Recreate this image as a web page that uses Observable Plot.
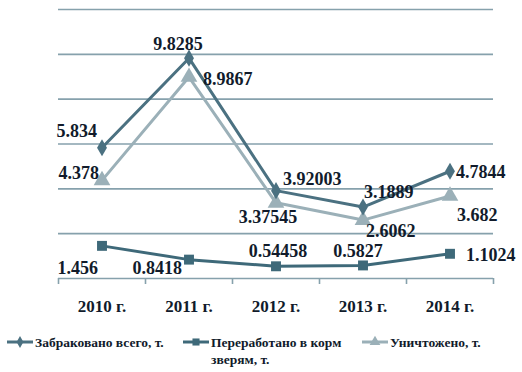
<!DOCTYPE html>
<html>
<head>
<meta charset="utf-8">
<script src="https://cdn.jsdelivr.net/npm/d3@7"></script>
<script src="https://cdn.jsdelivr.net/npm/@observablehq/plot@0.6"></script>
<style>
  html, body { margin: 0; padding: 0; background: #fff; }
  #chart { width: 522px; }
  .legend { position: relative; height: 46px; font-family: "Liberation Serif", "Times New Roman", serif; font-weight: bold; font-size: 13.5px; color: #111b2b; line-height: 17px; }
  .item { position: absolute; top: 8px; display: flex; align-items: flex-start; }
  .item svg { flex: none; margin-top: 1px; }
</style>
</head>
<body>
<div id="chart"></div>
<script>
const years = ["2010 г.", "2011 г.", "2012 г.", "2013 г.", "2014 г."];
const rejected = [5.834, 9.8285, 3.92003, 3.1889, 4.7844];
const feed = [1.456, 0.8418, 0.54458, 0.5827, 1.1024];
const destroyed = [4.378, 8.9867, 3.37545, 2.6062, 3.682];
const seriesNames = ["Забраковано всего, т.", "Переработано в корм зверям, т.", "Уничтожено, т."];
const yTicks = [0, 2, 4, 6, 8, 10, 12];

const colors = ["#4b7181", "#3e6979", "#9bb0b8"];
const symbols = ["diamond", "square", "triangle"];
const radii = [5.2, 5.6, 6.2];
const textColor = "#111b2b";
const gridColor = "#86a1ac";

// label placement per series per year: [anchor, dx, dy]
const labelPos = [
  [["end", -5, -16], ["middle", -11, -14], ["start", 7, -11], ["start", 1, -15], ["start", 6, 1]],
  [["end", -4, 22], ["end", -7, 9], ["middle", 2, -15], ["middle", -5, -14], ["start", 16, 1]],
  [["end", -3, -7], ["start", 14, 2], ["middle", -8, 14], ["start", 3, 11], ["start", 7, 19]]
];

const allSeries = [rejected, feed, destroyed];
const rows = allSeries.map((vals, s) => vals.map((v, i) => ({s, i, x: i + 0.5, year: years[i], value: v})));

const marks = [
  Plot.ruleY(yTicks, {stroke: gridColor, strokeWidth: 1.6}),
  Plot.axisX({ticks: d3.range(years.length + 1), tickSize: 6, tickFormat: () => "", label: null, stroke: gridColor, strokeWidth: 1.6}),
  Plot.axisX({ticks: years.map((d, i) => i + 0.5), tickSize: 0, tickPadding: 21, label: null, tickFormat: v => years[Math.floor(v)],
    fontSize: 17, fontWeight: "bold", fill: textColor})
];

// draw light series first, then others
[2, 0, 1].forEach(s => {
  marks.push(Plot.line(rows[s], {x: "x", y: "value", stroke: colors[s], strokeWidth: 3}));
  marks.push(Plot.dot(rows[s], {x: "x", y: "value", symbol: () => symbols[s], r: radii[s], fill: colors[s], stroke: "none"}));
});

rows.forEach((r, s) => r.forEach((d, i) => {
  const [anchor, dx, dy] = labelPos[s][i];
  marks.push(Plot.text([d], {x: "x", y: "value", text: d => String(d.value), textAnchor: anchor, dx, dy,
    fontSize: 18, fontWeight: "bold", fill: textColor}));
}));

const chart = Plot.plot({
  width: 522,
  height: 326,
  marginLeft: 58,
  marginRight: 29,
  marginTop: 9,
  marginBottom: 48,
  style: {background: "#fff", fontFamily: "'Liberation Serif', 'Times New Roman', serif", overflow: "visible"},
  x: {type: "linear", domain: [0, years.length], axis: null, label: null},
  y: {domain: [0, 12], axis: null, label: null},
  marks
});
document.getElementById("chart").appendChild(chart);

// legend
const legend = document.createElement("div");
legend.className = "legend";
const lefts = [7, 183, 362];
const textWidths = [150, 145, 140];
seriesNames.forEach((name, s) => {
  const item = document.createElement("div");
  item.className = "item";
  item.style.left = lefts[s] + "px";
  const sw = d3.create("svg").attr("width", 27).attr("height", 14);
  sw.append("line").attr("x1", 0).attr("x2", 26).attr("y1", 7).attr("y2", 7).attr("stroke", colors[s]).attr("stroke-width", 3);
  const symType = [d3.symbolDiamond, d3.symbolSquare, d3.symbolTriangle][s];
  sw.append("path").attr("d", d3.symbol(symType, [40, 50, 50][s])()).attr("transform", "translate(13,7)").attr("fill", colors[s]);
  item.appendChild(sw.node());
  const t = document.createElement("span");
  t.textContent = name;
  t.style.width = textWidths[s] + "px";
  t.style.paddingLeft = "1px";
  item.appendChild(t);
  legend.appendChild(item);
});
document.getElementById("chart").appendChild(legend);
</script>
</body>
</html>
